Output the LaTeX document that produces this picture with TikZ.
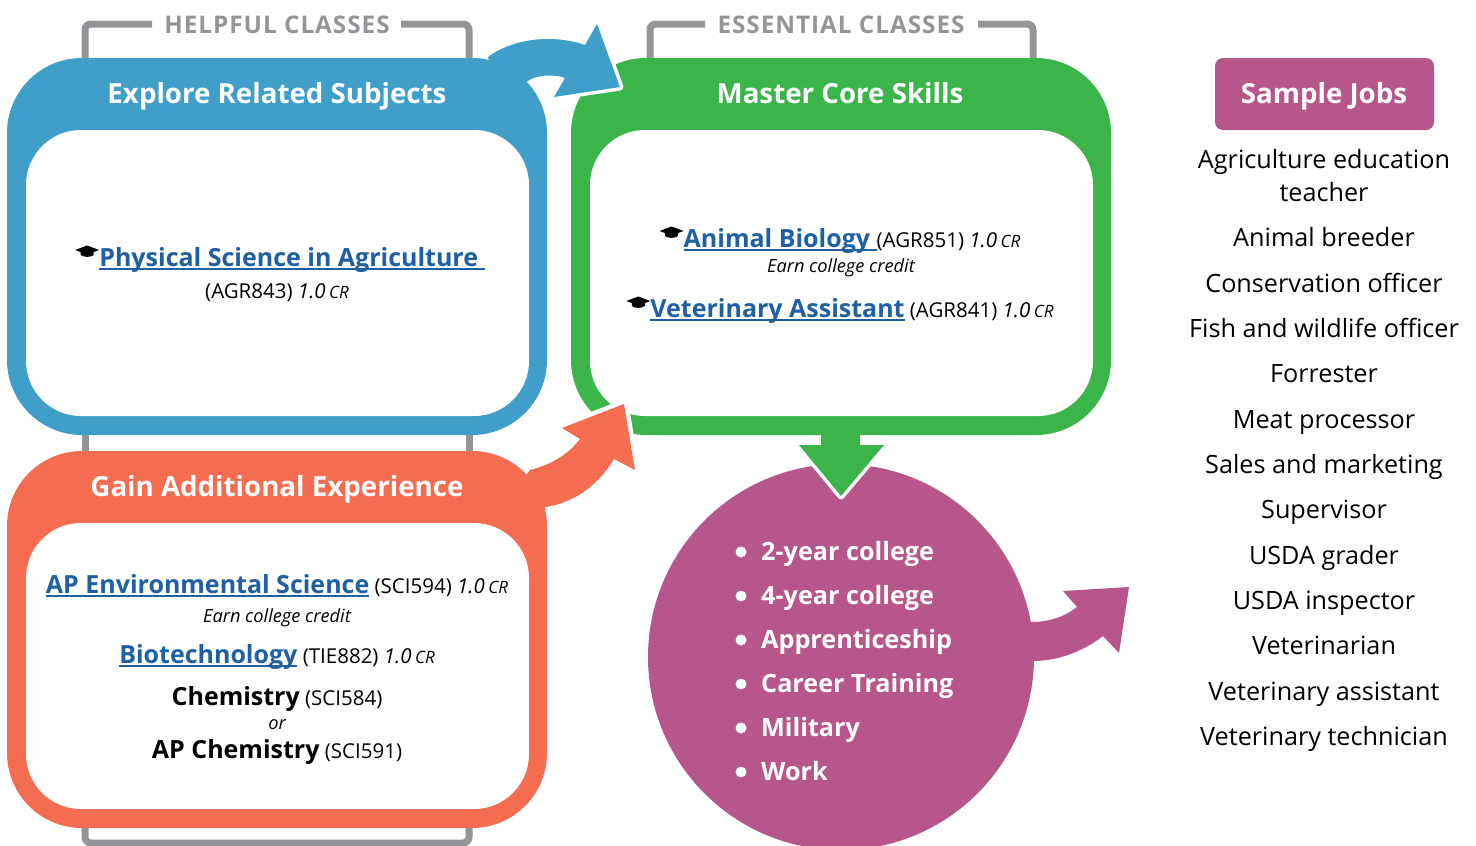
\documentclass[tikz,border=0pt]{standalone}
\usepackage{fontspec}
\setmainfont{Open Sans}
\definecolor{subjblue}{HTML}{3F9FC8}
\definecolor{coregreen}{HTML}{3BB54A}
\definecolor{extraorange}{HTML}{F46D50}
\definecolor{pathplum}{HTML}{B7568B}
\definecolor{bracketgray}{HTML}{939598}
\definecolor{linkblue}{HTML}{1F5FA3}
\newcommand{\courselink}[1]{{\color{linkblue}\fontsize{25}{30}\bfseries\selectfont\setbox0=\hbox{#1}\rlap{\rule[-3.5pt]{\wd0}{1.6pt}}\box0}}
\newcommand{\coursename}[1]{{\fontsize{25}{30}\bfseries\selectfont #1}}
\newcommand{\credit}{{\itshape 1.0\,{\fontsize{17}{20}\selectfont CR}}}
\tikzset{
  bracket/.style={draw=bracketgray, line width=7pt, rounded corners=6pt},
  heading/.style={anchor=base, text=white, font=\fontsize{27.7}{32}\bfseries\selectfont},
  classtag/.style={anchor=base, text=bracketgray, font=\fontsize{24.3}{28}\bfseries\addfontfeature{LetterSpace=4}\selectfont},
  course/.style={anchor=base, inner sep=0pt, font=\fontsize{20.5}{24}\selectfont},
  note/.style={anchor=base, inner sep=0pt, font=\fontsize{18.2}{22}\itshape\selectfont},
  jobname/.style={anchor=base, inner sep=0pt, font=\fontsize{25.2}{30}\selectfont},
  routename/.style={anchor=base west, inner sep=0pt, text=white, font=\fontsize{25.2}{30}\bfseries\selectfont},
  routedot/.style={circle, fill=white, inner sep=0pt, minimum size=11pt},
  halo/.style={preaction={draw=white, line width=#1, line join=round}},
  gradcap/.pic={
    \fill (-12,0) -- (0,-4.5) -- (12,0) -- (0,4.5) -- cycle;
    \fill (-6.5,1) -- (0,3.5) -- (6.5,1) -- (6.5,5) .. controls (3,7.5) and (-3,7.5) .. (-6.5,5) -- cycle;
  }
}
\begin{document}
\begin{tikzpicture}[x=1pt,y=-1pt]
  \useasboundingbox (0,0) rectangle (1476,846);
  % brackets behind the boxes
  \draw[bracket] (152,24) -- (85,24) -- (85,70);
  \draw[bracket] (401,24) -- (469,24) -- (469,70);
  \draw[bracket] (705,24) -- (650,24) -- (650,70);
  \draw[bracket] (978,24) -- (1033,24) -- (1033,70);
  \draw[bracket] (85,425) -- (85,460);
  \draw[bracket] (469,425) -- (469,460);
  \draw[bracket] (85,815) -- (85,843) -- (469,843) -- (469,815);
  \node[classtag] (helpful) at (277,33) {HELPFUL CLASSES};
  \node[classtag] (essential) at (841,33) {ESSENTIAL CLASSES};
  % plum circle and its arrow
  \fill[pathplum] (841,657) circle (193);
  \fill[pathplum] (1031,622) .. controls (1047,622) and (1063,618) .. (1077,607) -- (1063,591) -- (1129,587)
    -- (1119,653) -- (1103,636) .. controls (1085,650) and (1060,661) .. (1033,661) -- (1000,661) -- (1000,622) -- cycle;
  % green box
  \fill[halo=7pt, coregreen] (821,425) -- (821,445) -- (799,445) -- (841,496) -- (884,445) -- (860,445) -- (860,425) -- cycle;
  \fill[coregreen, rounded corners=75pt] (571,58) rectangle (1111,435);
  \fill[white, rounded corners=55pt] (590,130) rectangle (1093,416);
  % blue arrow, then blue box
  \fill[halo=7pt, subjblue] (488,57) .. controls (510,40) and (550,33) .. (585,45) -- (597,24) -- (620,87) -- (554,97) -- (565,78)
    .. controls (555,74) and (540,75) .. (531,79) -- (500,100) -- cycle;
  \fill[subjblue, rounded corners=75pt] (7,58) rectangle (547,435);
  \fill[white, rounded corners=55pt] (26,130) rectangle (529,416);
  % orange arrow, then orange box
  \fill[halo=9pt, extraorange] (530,470) .. controls (550,465) and (568,455) .. (580,439) -- (562,428) -- (624,404) -- (635,470) -- (614,459)
    .. controls (595,490) and (570,503) .. (546,507) -- (500,510) -- cycle;
  \fill[extraorange, rounded corners=75pt] (7,451) rectangle (547,828);
  \fill[white, rounded corners=55pt] (26,523) rectangle (529,809);
  % box titles
  \node[heading] (explore) at (277,103) {Explore Related Subjects};
  \node[heading] (master) at (840,103) {Master Core Skills};
  \node[heading] (gain) at (277,496) {Gain Additional Experience};
  % helpful classes
  \node[course] (physci) at (292,266) {\courselink{Physical Science in Agriculture\ }};
  \pic at ([shift={(-12,-16)}]physci.base west) {gradcap};
  \node[course] (agr843) at (277,298) {(AGR843) \credit};
  % essential classes
  \node[course] (animal) at (852,247) {\courselink{Animal Biology\ }(AGR851) \credit};
  \pic at ([shift={(-12,-16)}]animal.base west) {gradcap};
  \node[note] (animalnote) at (841,272) {Earn college credit};
  \node[course] (vet) at (852,317) {\courselink{Veterinary Assistant} (AGR841) \credit};
  \pic at ([shift={(-12,-16)}]vet.base west) {gradcap};
  % additional experience
  \node[course] (apenv) at (277,593) {\courselink{AP Environmental Science} (SCI594) \credit};
  \node[note] (apenvnote) at (277,622) {Earn college credit};
  \node[course] (biotech) at (277,663) {\courselink{Biotechnology} (TIE882) \credit};
  \node[course] (chem) at (277,705) {\coursename{Chemistry} (SCI584)};
  \node[note] (ornote) at (277,729) {or};
  \node[course] (apchem) at (277,758) {\coursename{AP Chemistry} (SCI591)};
  % routes in the circle
  \foreach \route [count=\i] in {2-year college,4-year college,Apprenticeship,Career Training,Military,Work} {
    \node[routedot] (dot\i) at (741,516+44*\i+0-8) {};
    \node[routename] (route\i) at (761,516+44*\i) {\route};
  }
  % sample jobs
  \fill[pathplum, rounded corners=8pt] (1215,58) rectangle (1434,130);
  \node[heading] (jobs) at (1324,103) {Sample Jobs};
  \foreach \job/\ypos [count=\i] in {Agriculture education/168,teacher/201,Animal breeder/246,Conservation officer/292,Fish and wildlife officer/337,Forrester/382,Meat processor/428,Sales and marketing/473,Supervisor/518,USDA grader/564,USDA inspector/609,Veterinarian/654,Veterinary assistant/700,Veterinary technician/745} {
    \node[jobname] (job\i) at (1324,\ypos) {\job};
  }
\end{tikzpicture}
\end{document}
